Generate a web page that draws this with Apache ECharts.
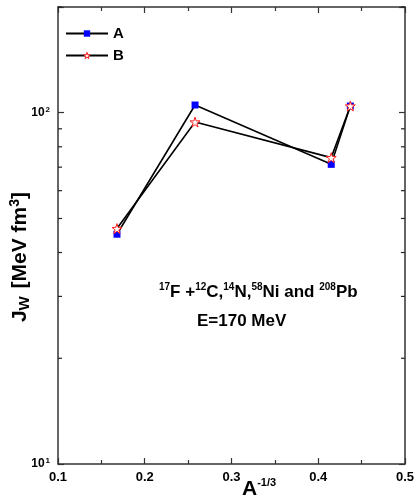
<!DOCTYPE html>
<html><head><meta charset="utf-8">
<script src="https://cdn.jsdelivr.net/npm/echarts@6/dist/echarts.min.js"></script>
<style>html,body{margin:0;padding:0;background:#fff}#c{width:417px;height:498px}</style>
</head><body><div id="c"></div>
<script>
const xA = [0.168, 0.258, 0.415, 0.437];
const yA = [45.1, 105.2, 71.3, 104.5];
const xB = [0.168, 0.258, 0.415, 0.437];
const yB = [46.8, 94.1, 74.5, 104.5];
const seriesNames = ['A', 'B'];
const xTicks = [0.1, 0.2, 0.3, 0.4, 0.5];
const yMinorTicks = [20, 30, 40, 50, 60, 70, 80, 90, 200];

const star = 'path://M50,0 L61,35 L98,35 L68,57 L79,91 L50,70 L21,91 L32,57 L2,35 L39,35 Z';
const FONT = 'Arial, "Liberation Sans", sans-serif';
const chart = echarts.init(document.getElementById('c'), null, {renderer: 'canvas'});

function minorTickSeries(side) {
  return {
    type: 'custom', xAxisIndex: 0, yAxisIndex: 0, silent: true, clip: false, z: 5,
    data: yMinorTicks.map(v => [0.1, v]),
    renderItem: function (params, api) {
      const p = api.coord([side === 'left' ? 0.1 : 0.5, api.value(1)]);
      const dx = side === 'left' ? 4 : -4;
      return {type: 'line', shape: {x1: p[0], y1: p[1], x2: p[0] + dx, y2: p[1]},
              style: {stroke: '#222', lineWidth: 1.2}};
    }
  };
}

const option = {
  animation: false,
  backgroundColor: '#fff',
  color: ['#0000ff', '#ff2020'],
  grid: {left: 58, right: 9, top: 7, bottom: 34},
  legend: {
    left: 60, top: 21, orient: 'vertical', itemGap: 7, itemWidth: 42, itemHeight: 8,
    textStyle: {fontFamily: FONT, fontWeight: 'bold', fontSize: 15, color: '#000'},
    data: [
      {name: seriesNames[0], itemStyle: {color: '#0000ff'}},
      {name: seriesNames[1], itemStyle: {color: '#fff', borderColor: '#ff2020', borderWidth: 1}}
    ]
  },
  xAxis: [{
    type: 'value', min: 0.1, max: 0.5, interval: 0.1,
    axisLine: {lineStyle: {color: '#333', width: 1.5}},
    axisTick: {inside: true, length: 6, lineStyle: {color: '#333', width: 1.2}},
    minorTick: {show: true, splitNumber: 2, length: 4, lineStyle: {color: '#333', width: 1.2}},
    splitLine: {show: false},
    axisLabel: {margin: 7, fontFamily: FONT, fontWeight: 'bold', fontSize: 13, color: '#000',
      formatter: v => xTicks.includes(Math.round(v * 10) / 10) ? (Math.round(v * 10) / 10).toString() : ''}
  }, {
    type: 'value', position: 'top', min: 0.1, max: 0.5, interval: 0.1,
    axisLine: {show: true, lineStyle: {color: '#333', width: 1.5}},
    axisTick: {inside: true, length: 6, lineStyle: {color: '#333', width: 1.2}},
    minorTick: {show: true, splitNumber: 2, length: 4, lineStyle: {color: '#333', width: 1.2}},
    splitLine: {show: false}, axisLabel: {show: false}
  }],
  yAxis: [{
    type: 'log', logBase: 10, min: 10, max: 200,
    axisLine: {show: true, lineStyle: {color: '#333', width: 1.5}},
    axisTick: {inside: true, length: 6, lineStyle: {color: '#333', width: 1.2}},
    splitLine: {show: false},
    axisLabel: {margin: 8, fontFamily: FONT, fontWeight: 'bold', fontSize: 12, color: '#000',
      formatter: v => {
        const e = Math.round(Math.log10(v));
        if (Math.abs(Math.log10(v) - e) > 1e-6) return '';
        return '10{s|' + e + '}';
      },
      rich: {s: {fontSize: 8, fontFamily: FONT, fontWeight: 'bold', verticalAlign: 'top', padding: [0, 0, 6, 1]}}
    }
  }, {
    type: 'log', logBase: 10, min: 10, max: 200, position: 'right',
    axisLine: {show: true, lineStyle: {color: '#333', width: 1.5}},
    axisTick: {inside: true, length: 6, lineStyle: {color: '#333', width: 1.2}},
    splitLine: {show: false}, axisLabel: {show: false}
  }],
  series: [
    {
      name: 'A', type: 'line', data: xA.map((x, i) => [x, yA[i]]),
      symbol: 'rect', symbolSize: 7, showAllSymbol: true,
      lineStyle: {color: '#000', width: 1.6},
      itemStyle: {color: '#0000ff', borderColor: '#0000ff', borderWidth: 0},
      z: 3
    },
    {
      name: 'B', type: 'line', data: xB.map((x, i) => [x, yB[i]]),
      symbol: star, symbolSize: 10, showAllSymbol: true,
      lineStyle: {color: '#000', width: 1.6},
      itemStyle: {color: '#fff', borderColor: '#ff2020', borderWidth: 1},
      z: 4
    },
    minorTickSeries('left'),
    minorTickSeries('right')
  ],
  graphic: [
    {
      type: 'text', left: 8, top: 192, rotation: Math.PI / 2, z: 10,
      style: {
        text: '{b|J}{sub|W}{b| [MeV fm}{sup|3}{b|]}',
        fill: '#000',
        rich: {
          b: {fontFamily: FONT, fontWeight: 'bold', fontSize: 21, fill: '#000'},
          sub: {fontFamily: FONT, fontWeight: 'bold', fontSize: 15, fill: '#000', padding: [9, 2, 0, 0]},
          sup: {fontFamily: FONT, fontWeight: 'bold', fontSize: 14, fill: '#000', padding: [0, 0, 11, 0]}
        }
      }
    },
    {
      type: 'text', left: 242, top: 477, z: 10,
      style: {
        text: '{b|A}{sup|-1/3}',
        rich: {
          b: {fontFamily: FONT, fontWeight: 'bold', fontSize: 21, fill: '#000'},
          sup: {fontFamily: FONT, fontWeight: 'bold', fontSize: 11, fill: '#000', padding: [0, 0, 14, 0]}
        }
      }
    },
    {
      type: 'text', left: 159, top: 282, z: 10,
      style: {
        text: '{sup|17}{b|F +}{sup|12}{b|C,}{sup|14}{b|N,}{sup|58}{b|Ni and }{sup|208}{b|Pb}',
        rich: {
          b: {fontFamily: FONT, fontWeight: 'bold', fontSize: 17, fill: '#000'},
          sup: {fontFamily: FONT, fontWeight: 'bold', fontSize: 10, fill: '#000', padding: [0, 0, 10, 0]}
        }
      }
    },
    {
      type: 'text', left: 197, top: 313, z: 10,
      style: {text: 'E=170 MeV', fontFamily: FONT, fontWeight: 'bold', fontSize: 17, fill: '#000'}
    }
  ]
};
chart.setOption(option);
</script></body></html>
